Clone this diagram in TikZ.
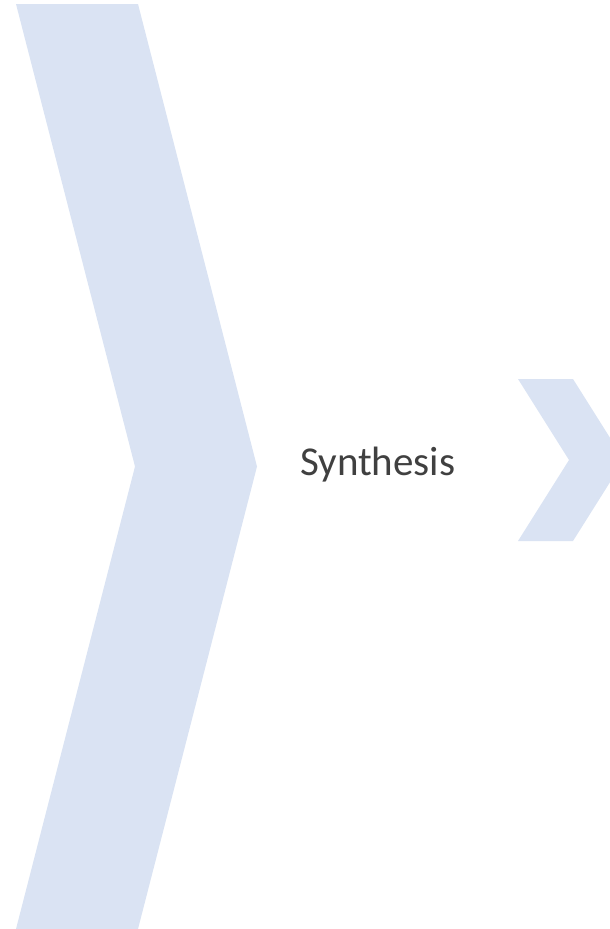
\documentclass[tikz,border=0pt]{standalone}
\usepackage{fontspec}
\setmainfont{Carlito}
\definecolor{chev}{HTML}{DAE3F3}
\definecolor{txt}{HTML}{404040}
\tikzset{chevron/.style={fill=chev,draw=none}}
\begin{document}
\begin{tikzpicture}[x=1pt,y=-1pt]
\useasboundingbox (0,0) rectangle (610,929);
\clip (0,0) rectangle (610,929);
\fill[chevron] (16,4) -- (138,4) -- (257,466.5) -- (138,929) -- (16,929) -- (135,466.5) -- cycle;
\fill[chevron] (518,379) -- (573,379) -- (624,460) -- (573,541) -- (518,541) -- (569,460) -- cycle;
\node[anchor=base west,inner sep=0pt,text=txt,font=\fontsize{41}{49}\selectfont] (syn) at (300,475) {Synthesis};
\end{tikzpicture}
\end{document}
